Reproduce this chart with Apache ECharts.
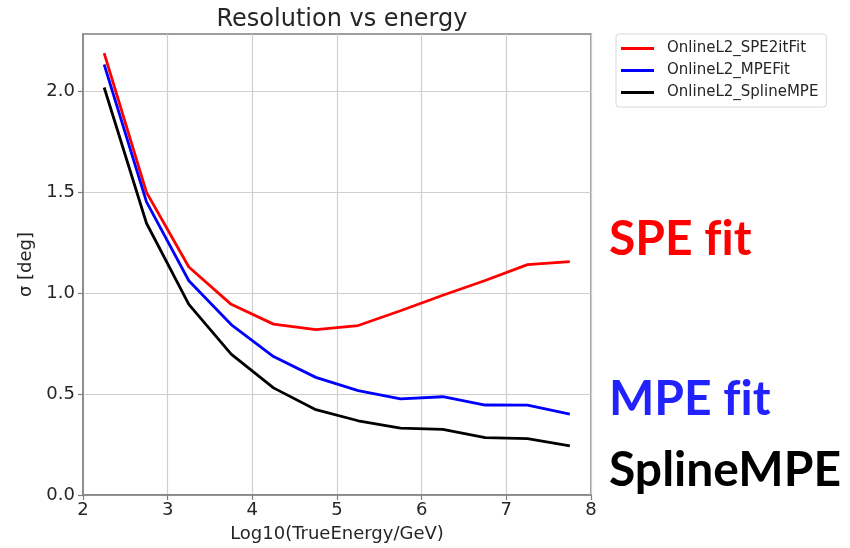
<!DOCTYPE html>
<html>
<head>
<meta charset="utf-8">
<script src="https://cdn.jsdelivr.net/npm/echarts@6/dist/echarts.min.js"></script>
<style>
  html, body { margin: 0; padding: 0; background: #fff; }
  #chart { width: 850px; height: 548px; }
</style>
</head>
<body>
<div id="chart"></div>
<script>
// log10(E/GeV) bin centres
const energyBins = [2.25, 2.75, 3.25, 3.75, 4.25, 4.75, 5.25, 5.75, 6.25, 6.75, 7.25, 7.75];

// angular resolution per reconstruction, degrees
const spe2itFit = [2.19, 1.50, 1.13, 0.945, 0.847, 0.82, 0.84, 0.913, 0.99, 1.063, 1.142, 1.157];
const mpeFit    = [2.134, 1.453, 1.062, 0.845, 0.686, 0.583, 0.517, 0.476, 0.487, 0.446, 0.445, 0.401];
const splineMpe = [2.02, 1.347, 0.945, 0.698, 0.531, 0.423, 0.368, 0.331, 0.325, 0.284, 0.279, 0.243];

const seriesNames = ['OnlineL2_SPE2itFit', 'OnlineL2_MPEFit', 'OnlineL2_SplineMPE'];
const seriesColors = ['#ff0000', '#0000ff', '#000000'];

const xTicks = [2, 3, 4, 5, 6, 7, 8];
const yTicks = [0.0, 0.5, 1.0, 1.5, 2.0];

// side labels; the zero-width non-joiner keeps "f" and "i" as separate glyphs
const sideLabels = ['SPE f\u200Cit', 'MPE f\u200Cit', 'SplineMPE'];
const sideColors = ['#ff0000', '#2222ff', '#000000'];

const pair = (xs, ys) => xs.map((x, i) => [x, ys[i]]);
const allSeries = [spe2itFit, mpeFit, splineMpe];

const axisGray = '#808080';
const textGray = '#262626';
const mainFont = 'DejaVu Sans';

const chart = echarts.init(document.getElementById('chart'), null, { renderer: 'canvas' });

chart.setOption({
  backgroundColor: '#ffffff',
  animation: false,
  title: {
    text: 'Resolution vs energy',
    left: 337,
    top: 3,
    textAlign: 'center',
    textStyle: { fontFamily: mainFont, fontSize: 24, fontWeight: 'normal', color: textGray }
  },
  legend: {
    orient: 'vertical',
    left: 616,
    top: 34,
    padding: [7, 8, 7, 5],
    icon: 'rect',
    itemWidth: 33,
    itemHeight: 3,
    itemGap: 7,
    borderColor: '#d9d9d9',
    borderWidth: 1,
    borderRadius: 3,
    data: seriesNames,
    textStyle: { fontFamily: mainFont, fontSize: 15, color: textGray, padding: [0, 0, 0, 8] }
  },
  grid: {
    left: 83, right: 259, top: 34, bottom: 50,
    show: true,
    borderColor: axisGray,
    borderWidth: 1.5,
    backgroundColor: 'transparent'
  },
  xAxis: {
    type: 'value',
    min: 2, max: 8, interval: 1,
    name: 'Log10(TrueEnergy/GeV)',
    nameLocation: 'middle',
    nameGap: 30,
    nameTextStyle: { fontFamily: mainFont, fontSize: 18, color: textGray },
    axisLine: { show: true, lineStyle: { color: axisGray, width: 1.5 } },
    axisTick: { show: true, length: 5, lineStyle: { color: axisGray, width: 1.2 }, customValues: xTicks },
    axisLabel: {
      fontFamily: mainFont, fontSize: 18, color: textGray, margin: 6,
      customValues: xTicks,
      formatter: v => String(v)
    },
    splitLine: { show: true, lineStyle: { color: '#cfcfcf', width: 1.2 } }
  },
  yAxis: {
    type: 'value',
    min: 0, max: 2.285, interval: 0.5,
    name: 'σ [deg]',
    nameLocation: 'middle',
    nameGap: 42,
    nameTextStyle: { fontFamily: mainFont, fontSize: 18, color: textGray },
    axisLine: { show: true, lineStyle: { color: axisGray, width: 1.5 } },
    axisTick: { show: true, length: 5, lineStyle: { color: axisGray, width: 1.2 }, customValues: yTicks },
    axisLabel: {
      fontFamily: mainFont, fontSize: 18, color: textGray, margin: 8,
      customValues: yTicks,
      formatter: v => v.toFixed(1)
    },
    splitLine: { show: true, lineStyle: { color: '#cfcfcf', width: 1.2 } }
  },
  series: allSeries.map((vals, i) => ({
    name: seriesNames[i],
    type: 'line',
    data: pair(energyBins, vals),
    symbol: 'none',
    lineStyle: { color: seriesColors[i], width: 2.8 },
    itemStyle: { color: seriesColors[i] },
    z: 3 + i
  })),
  graphic: sideLabels.map((t, i) => ({
    type: 'text',
    left: 609,
    top: [216, 376, 447][i],
    style: {
      text: t,
      fill: sideColors[i],
      fontFamily: 'Lato',
      fontWeight: 'bold',
      fontSize: 48
    }
  }))
});
</script>
</body>
</html>
